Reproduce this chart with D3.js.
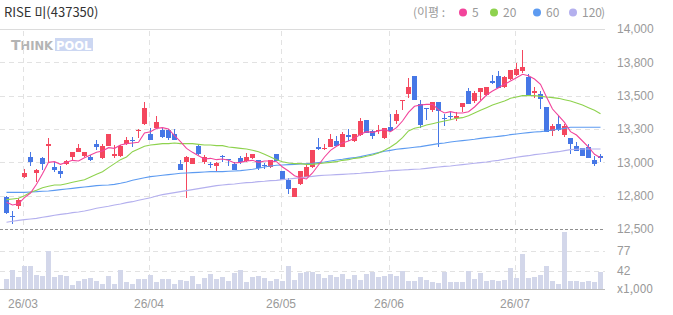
<!DOCTYPE html>
<html>
<head>
<meta charset="utf-8">
<script src="https://cdn.jsdelivr.net/npm/d3@7"></script>
<style>
  body { margin: 0; background: #fff; }
  svg { display: block; font-family: "Noto Sans CJK KR", "Noto Sans", sans-serif; }
</style>
</head>
<body>
<svg id="chart" width="673" height="315"></svg>
<script>
// daily candles, 2026-02-25 .. 2026-07-21 (100 trading days)
const open = [12740,12600,12670,12890,13040,12920,13030,13120,12965,12935,
  12985,13040,13075,13050,13040,13140,13035,13125,13050,13050,
  13140,13170,13235,13285,13210,13260,13245,13240,13215,12990,
  13005,12990,13125,13000,12990,12975,13050,13025,12990,13035,
  13010,13030,13015,12980,12965,13065,12935,12870,12740,12840,
  12890,12965,13115,13105,13115,13160,13115,13205,13160,13205,
  13315,13235,13235,13180,13265,13310,13460,13515,13645,13435,
  13405,13390,13450,13330,13345,13335,13415,13535,13460,13530,
  13505,13610,13645,13565,13625,13655,13685,13640,13520,13510,
  13415,13235,13290,13205,13180,13120,13105,13115,13015,13045];
const high = [12750,12635,12730,12950,13075,12950,13040,13180,13005,12975,
  13015,13080,13135,13080,13055,13165,13135,13210,13130,13130,
  13190,13190,13250,13455,13255,13345,13255,13250,13250,13015,
  13045,13035,13140,13055,13000,13000,13055,13025,13000,13045,
  13070,13060,13015,12995,13020,13065,12935,12885,12810,12935,
  12990,13090,13185,13135,13210,13195,13230,13250,13215,13330,
  13315,13240,13280,13255,13360,13390,13465,13630,13645,13465,
  13405,13450,13450,13365,13375,13375,13445,13555,13535,13555,
  13565,13655,13685,13645,13690,13745,13840,13660,13565,13535,
  13415,13285,13345,13285,13180,13150,13110,13140,13050,13065];
const low = [12610,12535,12650,12885,12975,12850,12945,12995,12930,12885,
  12980,13010,13075,13040,13010,13095,13025,13125,13035,13040,
  13130,13115,13185,13280,13165,13250,13185,13170,13165,12940,
  12735,12985,13055,12990,12960,12930,13005,12975,12940,12985,
  13005,13025,12940,12950,12955,13010,12865,12760,12740,12830,
  12890,12960,13095,13090,13115,13120,13115,13160,13155,13200,
  13220,13175,13210,13175,13230,13285,13390,13480,13470,13260,
  13320,13380,13115,13270,13315,13310,13380,13435,13445,13470,
  13500,13585,13560,13560,13620,13645,13670,13495,13485,13400,
  13230,13200,13235,13190,13065,13085,13050,13030,12975,13005];
const close = [12620,12590,12720,12920,13000,12945,12990,13140,12940,12910,
  13010,13075,13105,13075,13015,13115,13125,13210,13065,13125,
  13170,13160,13240,13405,13170,13300,13190,13180,13170,12945,
  13040,13030,13060,13040,12980,12995,13040,13020,12940,13005,
  13040,13060,12960,12975,13015,13010,12870,12800,12805,12935,
  12965,13090,13100,13110,13175,13120,13210,13190,13210,13310,
  13220,13200,13240,13255,13235,13360,13465,13565,13470,13280,
  13400,13450,13385,13325,13340,13345,13445,13435,13520,13555,
  13565,13595,13560,13640,13690,13700,13715,13495,13535,13475,
  13230,13275,13240,13275,13140,13085,13050,13030,12990,13030];
// volume, thousands of shares
const volume = [28,44,31.5,51,51,35,33,77,31.5,35,
  33,17.5,24.5,27,30,24.5,19,33,19,44,
  23,19,27,28,35,23,28,28,19,26,
  24.5,33,19,30,37,28,31.5,24.5,38.5,44,
  23,31.5,33,30,24.5,28,24.5,51,26,38.5,
  40,40,37,30,35,31.5,37,28,35,26,
  37,40,31.5,33,37,33,42,24.5,24.5,31.5,
  26,23,21,40,22,23,23,42,28,38.5,
  24.5,26,25,26,47,30,72,30,31.5,35,
  51,24.5,19,111,24.5,24.5,23,24.5,23,40];
// moving averages as drawn
const ma5 = [12700,12680,12690,12735,12770,12835,12915,13000,13005,12985,
  13000,13015,13010,13035,13055,13075,13085,13110,13105,13130,
  13140,13145,13150,13220,13230,13255,13260,13250,13200,13155,
  13105,13075,13050,13025,13030,13020,13025,13015,12995,13000,
  13010,13015,13000,13010,13010,13005,12965,12935,12900,12885,
  12875,12920,12980,13040,13090,13120,13145,13160,13180,13210,
  13230,13225,13235,13245,13230,13260,13310,13375,13420,13430,
  13435,13435,13395,13370,13380,13370,13370,13380,13415,13460,
  13505,13535,13560,13585,13610,13635,13660,13650,13625,13585,
  13490,13400,13350,13300,13230,13205,13160,13115,13060,13035];
const ma20 = [12720,12725,12730,12750,12775,12790,12810,12820,12830,12830,
  12840,12850,12860,12870,12890,12910,12930,12960,12990,13020,
  13040,13080,13100,13120,13130,13135,13140,13140,13145,13140,
  13140,13140,13135,13130,13130,13125,13125,13115,13110,13105,
  13100,13090,13080,13060,13040,13020,13005,12995,12990,12990,
  12985,12985,12990,12995,13000,13005,13015,13020,13030,13035,
  13045,13055,13070,13090,13115,13145,13185,13235,13255,13265,
  13280,13290,13300,13310,13320,13330,13335,13350,13370,13390,
  13410,13430,13445,13460,13480,13490,13500,13500,13500,13495,
  13490,13485,13480,13470,13460,13445,13430,13410,13390,13365];
const ma60 = [12775,12775,12775,12775,12778,12780,12783,12785,12790,12795,
  12800,12805,12810,12815,12820,12825,12828,12830,12835,12843,
  12853,12865,12875,12885,12893,12898,12903,12908,12913,12918,
  12920,12923,12925,12928,12930,12930,12930,12933,12935,12938,
  12943,12948,12955,12965,12973,12978,12980,12983,12985,12988,
  12990,12993,12998,13003,13010,13018,13023,13030,13035,13043,
  13053,13063,13073,13083,13090,13098,13103,13108,13113,13118,
  13125,13133,13140,13145,13153,13158,13163,13168,13173,13180,
  13185,13190,13195,13200,13208,13213,13218,13223,13228,13230,
  13235,13243,13248,13255,13263,13263,13263,13263,13263,13263];
const ma120 = [12550,12558,12565,12570,12575,12580,12588,12595,12603,12610,
  12615,12623,12628,12635,12645,12655,12663,12670,12680,12688,
  12698,12705,12715,12725,12735,12748,12758,12765,12773,12780,
  12788,12795,12803,12810,12818,12825,12830,12835,12838,12843,
  12848,12850,12855,12858,12863,12865,12870,12875,12880,12885,
  12890,12895,12900,12903,12905,12908,12910,12913,12915,12918,
  12923,12925,12930,12933,12938,12940,12943,12945,12948,12950,
  12955,12960,12965,12970,12973,12978,12983,12988,12993,12998,
  13003,13010,13015,13023,13030,13038,13045,13050,13058,13063,
  13068,13075,13080,13088,13095,13098,13100,13100,13100,13100];

const monthIdx = [3, 24, 46, 64, 85];
const monthLabels = ['26/03', '26/04', '26/05', '26/06', '26/07'];
const priceTicks = [14000, 13750, 13500, 13250, 13000, 12750, 12500];
const priceLabels = ['14,000', '13,800', '13,500', '13,300', '13,000', '12,800', '12,500'];
const volTicks = [77, 42];
const maNames = ['5', '20', '60', '120'];

const title = 'RISE 미(437350)';
const RED = '#f4475e', BLUE = '#4677e6';
const maColors = ['#f2449b', '#8ed24e', '#5d9bf1', '#b4b0ee'];
const GRID = '#e2e2e2', LABEL = '#9a9a9a';

const svg = d3.select('#chart');
const x = d3.scaleLinear().domain([0, open.length - 1]).range([6, 600]);
const y = d3.scaleLinear().domain([12500, 14000]).range([229, 29]);
const yVol = d3.scaleLinear().domain([11, 77]).range([288.5, 251]);
const right = 605;
const px = v => Math.round(v) + 0.5;

// title
svg.append('text')
  .attr('x', 4).attr('y', 17)
  .attr('font-size', 13).attr('fill', '#333')
  .text(title);

// legend
const $legend = svg.append('g').attr('font-size', 13).attr('fill', '#888');
$legend.append('text').attr('x', 413).attr('y', 17).text('(이평 :');
const dotX = [463, 494, 537, 573];
maNames.forEach((n, i) => {
  $legend.append('circle').attr('cx', dotX[i]).attr('cy', 12.5).attr('r', 4).attr('fill', maColors[i]);
  $legend.append('text').attr('x', dotX[i] + 9).attr('y', 17).text(n);
});
$legend.append('text').attr('x', 601).attr('y', 17).text(')');

// watermark
const $wm = svg.append('g').attr('transform', 'translate(11,38)')
  .attr('font-weight', 'bold').attr('font-family', 'DejaVu Sans, sans-serif');
$wm.append('rect').attr('x', 44).attr('y', 0).attr('width', 38).attr('height', 13).attr('fill', '#ccd7f2');
$wm.append('text').attr('x', 0).attr('y', 12).attr('fill', '#b4b4b4')
  .call(t => {
    t.append('tspan').attr('font-size', 14).text('T');
    t.append('tspan').attr('font-size', 11.5).text('HINK');
  });
$wm.append('text').attr('x', 45).attr('y', 12).attr('fill', '#fff')
  .attr('font-size', 11.5).text('POOL');

// grid
const $grid = svg.append('g').attr('shape-rendering', 'crispEdges');
$grid.selectAll('line.h')
  .data(priceTicks.slice(1, -1))
  .join('line')
  .attr('x1', 0).attr('x2', right)
  .attr('y1', d => px(y(d))).attr('y2', d => px(y(d)))
  .attr('stroke', GRID).attr('stroke-dasharray', '5,4');
$grid.append('line')
  .attr('x1', 0).attr('x2', right)
  .attr('y1', px(y(14000))).attr('y2', px(y(14000)))
  .attr('stroke', '#dcdcdc');
$grid.selectAll('line.v')
  .data(volTicks)
  .join('line')
  .attr('x1', 0).attr('x2', right)
  .attr('y1', d => px(yVol(d))).attr('y2', d => px(yVol(d)))
  .attr('stroke', GRID).attr('stroke-dasharray', '5,4');
$grid.selectAll('line.m')
  .data(monthIdx)
  .join('line')
  .attr('x1', d => px(x(d) - 1.5)).attr('x2', d => px(x(d) - 1.5))
  .attr('y1', px(y(14000)) + 1).attr('y2', 288)
  .attr('stroke', GRID).attr('stroke-dasharray', '5,4');
$grid.append('line')
  .attr('x1', 0).attr('x2', right)
  .attr('y1', px(y(12500))).attr('y2', px(y(12500)))
  .attr('stroke', '#8f8f8f').attr('stroke-dasharray', '3,2');
$grid.append('line')
  .attr('x1', 0).attr('x2', right)
  .attr('y1', px(yVol(11))).attr('y2', px(yVol(11)))
  .attr('stroke', '#bdbdbd');

// volume
svg.append('g').attr('shape-rendering', 'crispEdges')
  .selectAll('rect')
  .data(volume)
  .join('rect')
  .attr('x', (d, i) => x(i) - 2)
  .attr('width', 5)
  .attr('y', d => Math.round(yVol(d)))
  .attr('height', d => Math.round(yVol(11)) - Math.round(yVol(d)))
  .attr('fill', '#d3d7ea');

// candles
const candles = open.map((o, i) => ({ i, o, h: high[i], l: low[i], c: close[i] }));
const $candle = svg.append('g').attr('shape-rendering', 'crispEdges')
  .selectAll('g')
  .data(candles)
  .join('g')
  .attr('fill', d => d.c >= d.o ? RED : BLUE);
$candle.append('rect')
  .attr('x', d => x(d.i))
  .attr('width', 1)
  .attr('y', d => Math.round(y(d.h)))
  .attr('height', d => Math.max(1, Math.round(y(d.l)) - Math.round(y(d.h))));
$candle.append('rect')
  .attr('x', d => x(d.i) - 2)
  .attr('width', 5)
  .attr('y', d => Math.round(y(Math.max(d.o, d.c))))
  .attr('height', d => Math.max(1, Math.round(y(Math.min(d.o, d.c))) - Math.round(y(Math.max(d.o, d.c)))));

// moving averages
const line = d3.line().x((d, i) => x(i) + 0.5).y(d => y(d));
[ma120, ma60, ma20, ma5].forEach((s, k) => {
  svg.append('path')
    .attr('d', line(s))
    .attr('fill', 'none')
    .attr('stroke', maColors[3 - k])
    .attr('stroke-width', 1.1);
});

// axes
const $py = svg.append('g')
  .attr('transform', `translate(${right + 7},0)`)
  .call(d3.axisRight(y).tickValues(priceTicks).tickFormat((d, i) => priceLabels[i]).tickSize(0).tickPadding(5));
const $vy = svg.append('g')
  .attr('transform', `translate(${right + 7},0)`)
  .call(d3.axisRight(yVol).tickValues(volTicks).tickSize(0).tickPadding(5));
svg.append('text')
  .attr('x', right + 12).attr('y', yVol(11)).attr('dy', '0.35em')
  .text('x1,000');
const $mx = svg.append('g')
  .attr('transform', 'translate(-1.5,296)')
  .call(d3.axisBottom(x).tickValues(monthIdx).tickFormat((d, i) => monthLabels[i]).tickSize(0).tickPadding(3));

[$py, $vy, $mx].forEach($a => {
  $a.select('.domain').remove();
  $a.selectAll('text').attr('font-size', 12).attr('font-family', null).attr('fill', LABEL);
});
svg.selectAll('text:not([fill])').attr('font-size', 12).attr('fill', LABEL);
</script>
</body>
</html>
